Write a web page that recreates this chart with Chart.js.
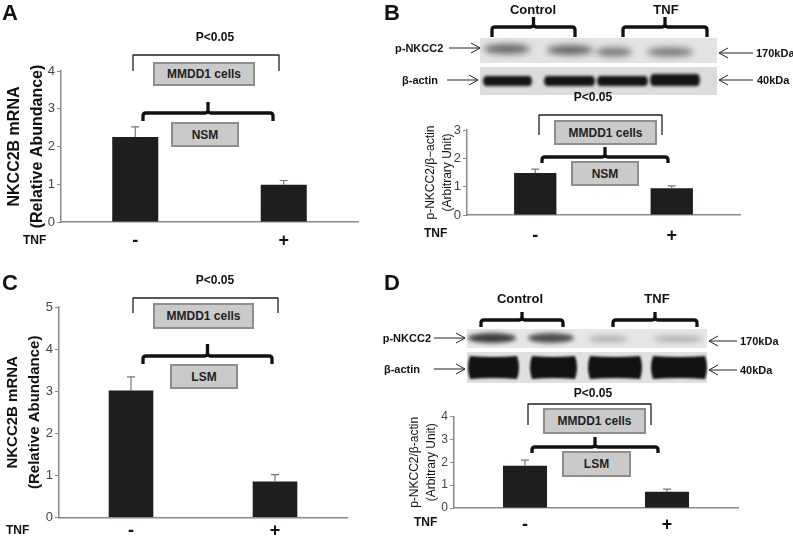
<!DOCTYPE html>
<html>
<head>
<meta charset="utf-8">
<script src="https://cdn.jsdelivr.net/npm/chart.js@4.4.0/dist/chart.umd.min.js"></script>
<style>
  body { margin: 0; background: #fff; }
  #page { position: relative; width: 793px; height: 546px; overflow: hidden; font-family: 'Liberation Sans', Arial, sans-serif; }
  #page canvas, #page svg { position: absolute; }
  .t { position: absolute; white-space: nowrap; line-height: 1; color: #111; }
  .box { position: absolute; box-sizing: border-box; background: #cacaca; border: 2px solid #8e8e8e;
         display: flex; align-items: center; justify-content: center; font-weight: bold; font-size: 12px; color: #222; }
</style>
</head>
<body>
<div id="page">
  <canvas id="blots" width="793" height="546" style="left:0;top:0"></canvas>
  <canvas id="chartA" width="365" height="200" style="left:0;top:56px"></canvas>
  <canvas id="chartB" width="360" height="130" style="left:390px;top:115px"></canvas>
  <canvas id="chartC" width="355" height="254" style="left:0;top:292px"></canvas>
  <canvas id="chartD" width="360" height="134" style="left:390px;top:402px"></canvas>
  <svg id="marks" width="793" height="546" style="left:0;top:0"></svg>
</div>
<script>
// TNF treatment groups
const tnfLabels = ['-', '+'];

// A: NKCC2B mRNA, NSM
const aMeans = [2.25, 0.99];
const aErr = [0.27, 0.11];
// B: p-NKCC2 / beta-actin, NSM
const bMeans = [1.48, 0.94];
const bErr = [0.14, 0.09];
// C: NKCC2B mRNA, LSM
const cMeans = [3.02, 0.86];
const cErr = [0.32, 0.16];
// D: p-NKCC2 / beta-actin, LSM
const dMeans = [1.85, 0.71];
const dErr = [0.25, 0.12];

const FONT = "'Liberation Sans', Arial, sans-serif";
Chart.defaults.font.family = FONT;

// error bars (upper whisker only)
const errorBars = {
  id: 'errorBars',
  afterDatasetsDraw(chart) {
    const ctx = chart.ctx;
    const y = chart.scales.y;
    chart.data.datasets.forEach((ds, i) => {
      chart.getDatasetMeta(i).data.forEach((bar, j) => {
        const top = y.getPixelForValue(ds.data[j] + ds.errors[j]);
        ctx.save();
        ctx.strokeStyle = '#777';
        ctx.lineWidth = 1.2;
        ctx.beginPath();
        ctx.moveTo(bar.x, bar.y);
        ctx.lineTo(bar.x, top);
        ctx.moveTo(bar.x - 4, top);
        ctx.lineTo(bar.x + 4, top);
        ctx.stroke();
        ctx.restore();
      });
    });
  }
};

function barChart(id, means, errs, o) {
  const el = document.getElementById(id);
  el.width = o.w; el.height = o.h; el.style.width = o.w + 'px';
  return new Chart(el, {
    type: 'bar',
    data: {
      labels: tnfLabels,
      datasets: [{
        data: means,
        errors: errs,
        backgroundColor: '#1f1d1e',
        barPercentage: 0.31,
        categoryPercentage: 1
      }]
    },
    options: {
      responsive: false,
      animation: false,
      plugins: { legend: { display: false }, tooltip: { enabled: false } },
      layout: { padding: { top: o.padTop, right: o.padRight, left: 0, bottom: 0 } },
      scales: {
        x: {
          grid: { drawOnChartArea: false, drawTicks: false },
          border: { color: '#8a8a8a', width: 1.5 },
          ticks: { font: { size: 18, weight: 'bold' }, color: '#111', padding: o.xPad },
          afterFit: s => { s.height = o.xh; }
        },
        y: {
          min: 0, max: o.max,
          ticks: { stepSize: 1, font: { size: o.tickSize }, color: '#444', padding: 2 },
          grid: { drawOnChartArea: false, tickLength: 4, color: '#8a8a8a' },
          border: { color: '#8a8a8a', width: 1.5 },
          title: {
            display: true, text: o.title, color: '#111',
            font: { size: o.titleSize, weight: o.titleWeight, lineHeight: o.titleLH },
            padding: { top: o.titlePad, bottom: 0 }
          },
          afterFit: s => { s.width = o.yw; }
        }
      }
    },
    plugins: [errorBars]
  });
}

barChart('chartA', aMeans, aErr, {
  w: 365, h: 200, padTop: 15, padRight: 7, xh: 34, xPad: 8, yw: 61, max: 4, tickSize: 13,
  title: ['NKCC2B mRNA', '(Relative Abundance)'], titleSize: 16, titleWeight: 'bold', titleLH: 1.44, titlePad: 3.5
});
barChart('chartC', cMeans, cErr, {
  w: 355, h: 254, padTop: 15, padRight: 8, xh: 28.4, xPad: 3, yw: 59, max: 5, tickSize: 13,
  title: ['NKCC2B mRNA', '(Relative Abundance)'], titleSize: 15, titleWeight: 'bold', titleLH: 1.47, titlePad: 2
});
barChart('chartB', bMeans, bErr, {
  w: 360, h: 130, padTop: 15, padRight: 10, xh: 30, xPad: 10, yw: 77, max: 3, tickSize: 13,
  title: ['p-NKCC2/\u03b2\u2212actin', '(Arbitrary Unit)'], titleSize: 12, titleWeight: 'normal', titleLH: 1.4, titlePad: 32.5
});
barChart('chartD', dMeans, dErr, {
  w: 360, h: 134, padTop: 14.7, padRight: 12, xh: 28, xPad: 6, yw: 64, max: 4, tickSize: 12,
  title: ['p-NKCC2/\u03b2-actin', '(Arbitrary Unit)'], titleSize: 12, titleWeight: 'normal', titleLH: 1.42, titlePad: 16.5
});

// ---- text labels ----
const page = document.getElementById('page');
function text(str, x, y, size, weight, align) {
  const d = document.createElement('div');
  d.className = 't';
  d.textContent = str;
  d.style.left = x + 'px';
  d.style.top = y + 'px';
  d.style.fontSize = size + 'px';
  d.style.fontWeight = weight || 'bold';
  const tx = align === 'left' ? '0' : align === 'right' ? '-100%' : '-50%';
  d.style.transform = 'translate(' + tx + ',-50%)';
  page.appendChild(d);
}
function box(str, x1, y1, x2, y2) {
  const d = document.createElement('div');
  d.className = 'box';
  d.textContent = str;
  d.style.left = x1 + 'px'; d.style.top = y1 + 'px';
  d.style.width = (x2 - x1) + 'px'; d.style.height = (y2 - y1) + 'px';
  page.appendChild(d);
}

// panel letters
text('A', 2, 13, 22, 'bold', 'left');
text('B', 384, 13, 22, 'bold', 'left');
text('C', 2, 283, 22, 'bold', 'left');
text('D', 384, 283, 22, 'bold', 'left');

// TNF axis captions
text('TNF', 23, 240, 12, 'bold', 'left');
text('TNF', 6, 530, 12, 'bold', 'left');
text('TNF', 424, 233, 12, 'bold', 'left');
text('TNF', 414, 522, 12, 'bold', 'left');

// significance
text('P<0.05', 215, 37, 12);
text('P<0.05', 215, 280, 12);
text('P<0.05', 593, 97, 12);
text('P<0.05', 593, 393, 12);

box('MMDD1 cells', 153, 62, 255, 86);
box('NSM', 171, 122, 239, 147);
box('MMDD1 cells', 153, 303, 254, 329);
box('LSM', 170, 364, 238, 389);
box('MMDD1 cells', 554, 120, 657, 145);
box('NSM', 571, 161, 639, 186);
box('MMDD1 cells', 543, 408, 646, 434);
box('LSM', 562, 451, 631, 477);

// blot labels
text('Control', 533, 9, 13);
text('TNF', 666, 9, 13);
text('Control', 520, 298, 13);
text('TNF', 657, 298, 13);
text('p-NKCC2', 395, 48, 11, 'bold', 'left');
text('\u03b2-actin', 402, 80, 11, 'bold', 'left');
text('170kDa', 756, 53, 11, 'bold', 'left');
text('40kDa', 757, 80, 11, 'bold', 'left');
text('p-NKCC2', 431, 338, 11, 'bold', 'right');
text('\u03b2-actin', 420, 369, 11, 'bold', 'right');
text('170kDa', 740, 341, 11, 'bold', 'left');
text('40kDa', 740, 370, 11, 'bold', 'left');

// ---- brackets and arrows ----
const svg = document.getElementById('marks');
function path(d, w, color) {
  const p = document.createElementNS('http://www.w3.org/2000/svg', 'path');
  p.setAttribute('d', d);
  p.setAttribute('fill', 'none');
  p.setAttribute('stroke', color || '#111');
  p.setAttribute('stroke-width', w);
  p.setAttribute('stroke-linejoin', 'round');
  svg.appendChild(p);
}
function squareBracket(x1, x2, top, bottom) {
  path(`M${x1},${bottom} V${top} H${x2} V${bottom}`, 1.3, '#222');
}
function curly(x1, x2, line, tip, end) {
  const c = (x1 + x2) / 2;
  path(`M${x1},${end} V${line + 3} Q${x1},${line} ${x1 + 3},${line} H${c - 3} Q${c},${line} ${c},${line - 3} V${tip}` +
       ` M${c},${line - 3} Q${c},${line} ${c + 3},${line} H${x2 - 3} Q${x2},${line} ${x2},${line + 3} V${end}`, 3.3, '#111');
}
function arrowRight(x1, x2, y) {
  path(`M${x1},${y} H${x2} M${x2 - 9},${y - 5} L${x2},${y} L${x2 - 9},${y + 5}`, 1, '#222');
}
function arrowLeft(x1, x2, y) {
  path(`M${x2},${y} H${x1} M${x1 + 9},${y - 5} L${x1},${y} L${x1 + 9},${y + 5}`, 1, '#222');
}

squareBracket(133, 279, 55, 71);
curly(143, 273, 113, 102, 121);
squareBracket(133, 278, 298, 313);
curly(143, 272, 356, 344, 364);
squareBracket(539, 662, 115, 135);
curly(542, 668, 157, 147, 163);
squareBracket(528, 651, 404, 425);
curly(532, 658, 447, 437, 453);

curly(492, 575, 27, 17, 37);
curly(623, 707, 27, 17, 37);
curly(481, 563, 320, 312, 327);
curly(613, 697, 320, 312, 327);

arrowRight(449, 480, 48);
arrowRight(447, 478, 80);
arrowLeft(719, 753, 53);
arrowLeft(719, 753, 80);
arrowRight(434, 465, 338);
arrowRight(434, 465, 369);
arrowLeft(709, 737, 341);
arrowLeft(709, 737, 370);

// ---- western blot images ----
const bctx = document.getElementById('blots').getContext('2d');
function strip(x1, y1, x2, y2, bg) {
  bctx.fillStyle = bg;
  bctx.fillRect(x1, y1, x2 - x1, y2 - y1);
}
function band(cx, cy, w, h, color, blur) {
  bctx.save();
  bctx.filter = `blur(${blur}px)`;
  bctx.fillStyle = color;
  bctx.beginPath();
  bctx.ellipse(cx, cy, w / 2, h / 2, 0, 0, Math.PI * 2);
  bctx.fill();
  bctx.restore();
}
function blob(x1, y1, x2, y2, color, blur) {
  bctx.save();
  bctx.filter = `blur(${blur}px)`;
  bctx.fillStyle = color;
  const pinch = (y2 - y1) * 0.18;
  bctx.beginPath();
  bctx.moveTo(x1, y1 + 3);
  bctx.quadraticCurveTo((x1 + x2) / 2, y1 + pinch, x2, y1 + 3);
  bctx.quadraticCurveTo(x2 + 4, (y1 + y2) / 2, x2, y2 - 3);
  bctx.quadraticCurveTo((x1 + x2) / 2, y2 - pinch, x1, y2 - 3);
  bctx.quadraticCurveTo(x1 - 4, (y1 + y2) / 2, x1, y1 + 3);
  bctx.fill();
  bctx.restore();
}

// B blots
strip(480, 38, 717, 63, '#e3e3e3');
strip(480, 67, 717, 95, '#dcdcdc');
band(507, 49, 46, 10, 'rgba(60,60,60,0.75)', 3);
band(570, 50, 46, 10, 'rgba(60,60,60,0.75)', 3);
band(614, 52, 36, 9, 'rgba(75,75,75,0.7)', 3);
band(670, 52, 46, 9, 'rgba(75,75,75,0.7)', 3);
blob(485, 73, 530, 89, '#141414', 1.5);
blob(546, 73, 593, 89, '#141414', 1.5);
blob(599, 73, 646, 89, '#141414', 1.5);
blob(652, 71, 698, 89, '#141414', 1.5);

// D blots
strip(467, 329, 707, 348, '#e6e6e6');
strip(467, 352, 707, 383, '#e0e0e0');
band(492, 338, 48, 10, 'rgba(30,30,30,0.85)', 2);
band(551, 338, 46, 10, 'rgba(40,40,40,0.8)', 2);
band(608, 339, 40, 7, 'rgba(120,120,120,0.45)', 2.5);
band(678, 339, 50, 7, 'rgba(120,120,120,0.45)', 2.5);
blob(470, 353, 517, 382, '#121212', 1.2);
blob(532, 353, 575, 382, '#121212', 1.2);
blob(590, 353, 640, 382, '#121212', 1.2);
blob(653, 353, 705, 382, '#121212', 1.2);
</script>
</body>
</html>
